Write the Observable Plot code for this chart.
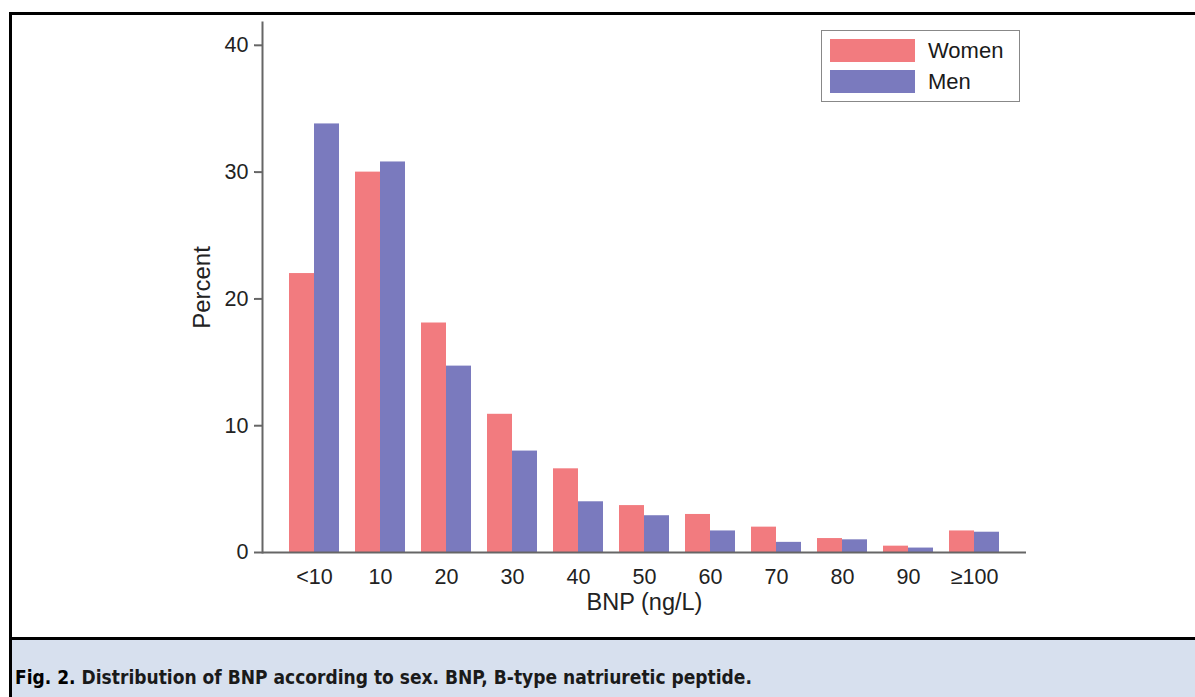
<!DOCTYPE html>
<html><head><meta charset="utf-8">
<script src="https://cdn.jsdelivr.net/npm/d3@7"></script>
<script src="https://cdn.jsdelivr.net/npm/@observablehq/plot@0.6"></script>
<style>
html,body{margin:0;padding:0;background:#fff;width:1195px;height:697px;overflow:hidden;position:relative;font-family:"Liberation Sans",Arial,sans-serif;}
#bl{position:absolute;left:9px;top:12px;width:3px;height:685px;background:#000;}
#bt{position:absolute;left:9px;top:12px;width:1186px;height:3px;background:#000;}
#chart{position:absolute;left:0;top:0;}
#cap{position:absolute;left:12px;top:637px;width:1183px;height:60px;border-top:3px solid #000;background:#d7e0ee;box-sizing:border-box;}
#capText{position:absolute;left:3px;top:28px;white-space:nowrap;font-family:"Liberation Sans Narrow","DejaVu Sans Condensed",sans-serif;font-weight:bold;font-size:19px;color:#1a1a1a;line-height:1;}
#capText b{color:#000;}
#legend{position:absolute;left:821px;top:30px;width:199px;height:72px;border:1.5px solid #888;box-sizing:border-box;background:#fff;}
.sw{position:absolute;left:8px;width:85px;height:23px;}
.lt{position:absolute;left:106px;font-size:22px;color:#1a1a1a;line-height:23px;font-family:"Liberation Sans",Arial,sans-serif;}
</style>
</head><body>
<div id="chart"></div>
<div id="bl"></div>
<div id="bt"></div>
<div id="legend"></div>
<div id="cap"><div id="capText"></div></div>
<script>
const categories = ["<10","10","20","30","40","50","60","70","80","90","≥100"];
const women = [22.0,30.0,18.1,10.9,6.6,3.7,3.0,2.0,1.1,0.5,1.7];
const men = [33.8,30.8,14.7,8.0,4.0,2.9,1.7,0.8,1.0,0.35,1.6];
const seriesNames = ["Women","Men"];
const seriesColors = ["#f27b7f","#7a7abe"];
const yTicks = [0,10,20,30,40];
const yLabel = "Percent";
const xLabel = "BNP (ng/L)";
const captionBold = "Fig. 2.";
const captionText = " Distribution of BNP according to sex. BNP, B-type natriuretic peptide.";

const womenData = categories.map((c,i)=>({cat:c, value:women[i]}));
const menData = categories.map((c,i)=>({cat:c, value:men[i]}));

const W = 1195, H = 637;
const bandW = 50;
const chart = Plot.plot({
  width: W, height: H,
  marginLeft: 262, marginRight: 169, marginTop: 22, marginBottom: 85,
  style: {background:"transparent", fontFamily:"'Liberation Sans', Arial, sans-serif"},
  x: {type:"band", domain: categories, paddingInner: 16/66, paddingOuter: 0.409},
  y: {domain:[0,41.8]},
  marks: [
    Plot.barY(womenData, {x:"cat", y:"value", fill: seriesColors[0], insetRight: bandW/2}),
    Plot.barY(menData, {x:"cat", y:"value", fill: seriesColors[1], insetLeft: bandW/2}),
    Plot.ruleY([0], {stroke:"#666", strokeWidth:2}),
    Plot.frame({anchor:"left", stroke:"#666", strokeWidth:2}),
    Plot.axisY(yTicks, {tickSize:8, tickPadding:6, stroke:"#666", strokeWidth:2, fill:"#222", fontSize:21.5, label:null}),
    Plot.axisX({tickSize:0, tickPadding:16, fill:"#222", fontSize:21.5, label:null}),
    Plot.text([yLabel], {frameAnchor:"left", textAnchor:"middle", lineAnchor:"middle", dx:-60, rotate:-90, fontSize:24, fill:"#222"}),
    Plot.text([xLabel], {frameAnchor:"bottom", dy:57, fontSize:23.5, fill:"#222"})
  ]
});
document.getElementById("chart").append(chart);

const legend = document.getElementById("legend");
seriesNames.forEach((n,i)=>{
  const sw = document.createElement("div");
  sw.className = "sw"; sw.style.top = (7.5 + i*31) + "px"; sw.style.background = seriesColors[i];
  const t = document.createElement("div");
  t.className = "lt"; t.style.top = (7.5 + i*31) + "px"; t.textContent = n;
  legend.append(sw, t);
});
const cap = document.getElementById("capText");
const b = document.createElement("b"); b.textContent = captionBold;
cap.append(b, document.createTextNode(captionText));
</script>
</body></html>
